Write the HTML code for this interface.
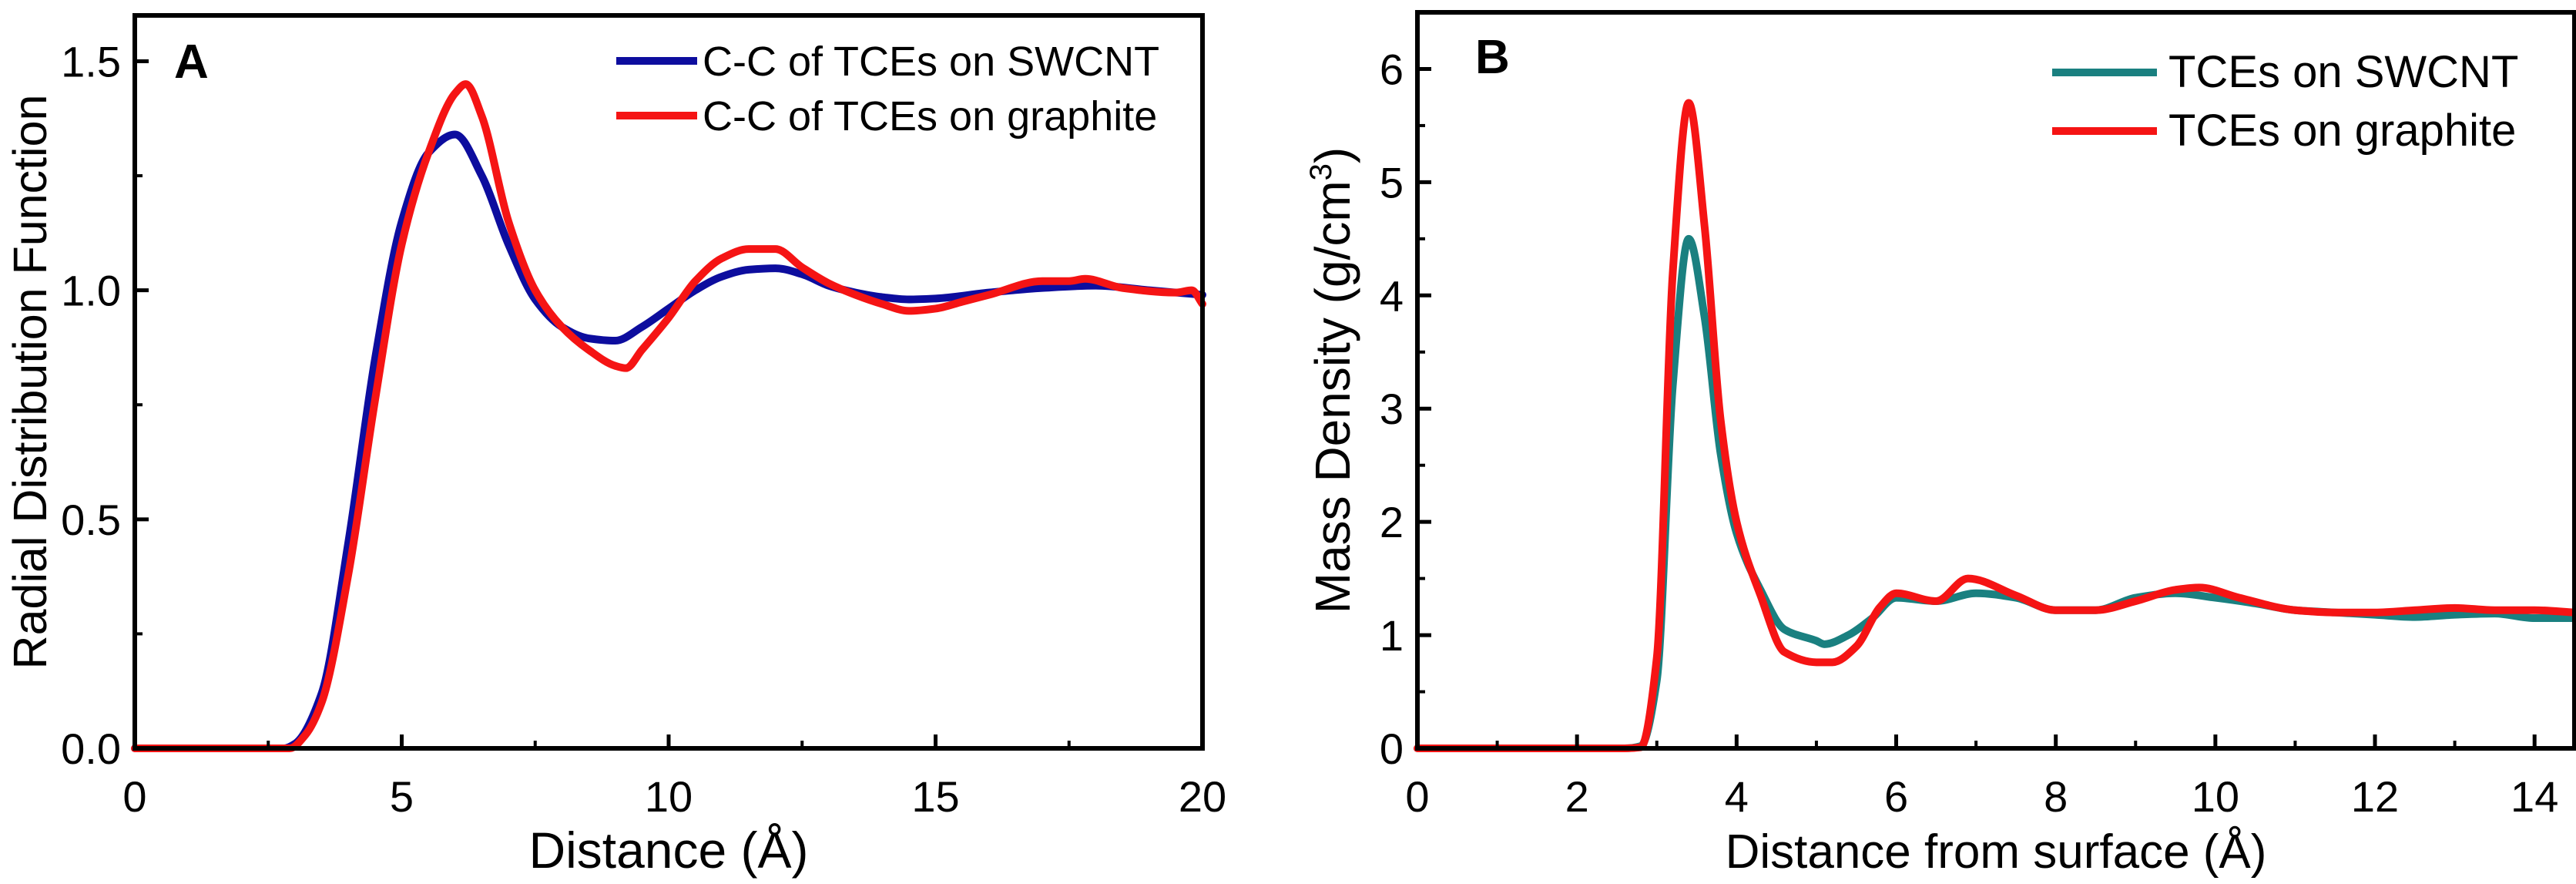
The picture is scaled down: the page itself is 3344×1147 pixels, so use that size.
<!DOCTYPE html>
<html><head><meta charset="utf-8"><style>
html,body{margin:0;padding:0;background:#fff}
svg{display:block;font-family:"Liberation Sans",sans-serif}
</style></head><body>
<svg id="chart" width="3344" height="1147" viewBox="0 0 3344 1147" xmlns="http://www.w3.org/2000/svg"></svg>
<script>
// Panel A data
const aX_swcnt=[0,2.8,3.0,3.5,4,4.5,5,5.5,6,6.5,7,7.5,8,8.5,9,9.5,10,10.5,11,11.5,12,12.5,13,13.5,14,14.5,15,16,17,18,19,20];
const aY_swcnt=[0,0,0.01,0.12,0.45,0.85,1.15,1.30,1.34,1.25,1.10,0.98,0.92,0.895,0.89,0.92,0.96,1.0,1.03,1.045,1.048,1.035,1.01,0.995,0.985,0.98,0.982,0.995,1.005,1.01,1.0,0.99];
const aX_graph=[0,2.9,3.2,3.5,4,4.5,5,5.5,6,6.2,6.5,7,7.5,8,8.5,9,9.2,9.5,10,10.5,11,11.5,12,12.5,13,13.5,14,14.5,15,15.5,16,17,17.5,17.8,18.5,19.5,19.8,20];
const aY_graph=[0,0,0.03,0.10,0.38,0.76,1.10,1.30,1.43,1.45,1.38,1.15,1.0,0.92,0.87,0.835,0.83,0.87,0.94,1.02,1.07,1.09,1.09,1.05,1.015,0.99,0.97,0.955,0.96,0.975,0.99,1.02,1.02,1.025,1.005,0.995,1.0,0.97];
const aXTicks=[0,5,10,15,20];
const aYTicks=[0.0,0.5,1.0,1.5];
const aYTickLabels=["0.0","0.5","1.0","1.5"];
// Panel B data
const bX_swcnt=[0,2.6,2.8,3.0,3.2,3.4,3.6,3.8,4.0,4.3,4.6,5.0,5.1,5.4,5.7,6,6.5,7,7.5,8,8.5,9,9.5,10,10.5,11,11.5,12,12.5,13,13.5,14,14.5];
const bY_swcnt=[0,0,0.02,0.6,3.2,4.5,3.8,2.6,1.9,1.4,1.05,0.95,0.92,1.0,1.15,1.33,1.3,1.37,1.33,1.22,1.22,1.33,1.37,1.33,1.28,1.22,1.2,1.18,1.16,1.18,1.19,1.15,1.15];
const bX_graph=[0,2.6,2.8,3.0,3.2,3.4,3.6,3.8,4.0,4.3,4.6,5.0,5.2,5.5,5.8,6,6.5,6.9,7.5,8,8.5,9,9.5,9.8,10.3,11,11.5,12,12.5,13,13.5,14,14.5];
const bY_graph=[0,0,0.01,0.8,4.2,5.7,4.6,2.9,2.0,1.35,0.85,0.76,0.76,0.9,1.25,1.37,1.3,1.5,1.35,1.22,1.22,1.3,1.4,1.42,1.33,1.22,1.2,1.2,1.22,1.24,1.22,1.22,1.2];
const bXTicks=[0,2,4,6,8,10,12,14];
const bYTicks=[0,1,2,3,4,5,6];

const NS="http://www.w3.org/2000/svg";
const svg=document.getElementById('chart');
function mk(tag,attrs,parent){const e=document.createElementNS(NS,tag);for(const k in attrs)e.setAttribute(k,attrs[k]);(parent||svg).appendChild(e);return e;}
// monotone cubic (Fritsch-Carlson) path
function smooth(p){const n=p.length;const d=[],m=[];
  for(let i=0;i<n-1;i++)d.push((p[i+1][1]-p[i][1])/(p[i+1][0]-p[i][0]));
  m[0]=d[0];m[n-1]=d[n-2];
  for(let i=1;i<n-1;i++){if(d[i-1]*d[i]<=0)m[i]=0;else{const h0=p[i][0]-p[i-1][0],h1=p[i+1][0]-p[i][0];const w1=2*h1+h0,w2=h1+2*h0;m[i]=(w1+w2)/(w1/d[i-1]+w2/d[i]);}}
  let s=`M${p[0][0]},${p[0][1]}`;
  for(let i=0;i<n-1;i++){const h=(p[i+1][0]-p[i][0])/3;
    s+=` C${p[i][0]+h},${p[i][1]+m[i]*h} ${p[i+1][0]-h},${p[i+1][1]-m[i+1]*h} ${p[i+1][0]},${p[i+1][1]}`;}
  return s;}

function panel(cfg){
  const g=mk('g',{});
  
  
  const sx=v=>cfg.l+(v-cfg.x0)/(cfg.x1-cfg.x0)*(cfg.r-cfg.l);
  const sy=v=>cfg.b-(v-cfg.y0)/(cfg.y1-cfg.y0)*(cfg.b-cfg.t);
  cfg.series.forEach(s=>{
    const pts=s.x.map((x,i)=>[sx(x),sy(s.y[i])]);
    const p=mk('path',{d:smooth(pts),fill:'none',stroke:s.color,'stroke-width':10,'stroke-linejoin':'round','stroke-linecap':'round'},g);
    
    
  });
  cfg.xTicks.forEach((v,i)=>{
    const t=mk('line',{x1:sx(v),x2:sx(v),y1:cfg.b,y2:cfg.b-18,stroke:'#000','stroke-width':5},g);
    
    
    const lb=mk('text',{x:sx(v),y:cfg.b+82,'text-anchor':'middle','font-size':cfg.tf},g);lb.textContent=String(v);
    
    
    if(i<cfg.xTicks.length-1){const m=(v+cfg.xTicks[i+1])/2;
      const mt=mk('line',{x1:sx(m),x2:sx(m),y1:cfg.b,y2:cfg.b-10,stroke:'#000','stroke-width':4},g);
      
      }
  });
  cfg.yTicks.forEach((v,i)=>{
    const t=mk('line',{x1:cfg.l,x2:cfg.l+18,y1:sy(v),y2:sy(v),stroke:'#000','stroke-width':5},g);
    
    
    const lb=mk('text',{x:cfg.l-18,y:sy(v)+20,'text-anchor':'end','font-size':cfg.tf},g);lb.textContent=cfg.yLabels[i];
    
    
    if(i<cfg.yTicks.length-1){const m=(v+cfg.yTicks[i+1])/2;
      const mt=mk('line',{x1:cfg.l,x2:cfg.l+10,y1:sy(m),y2:sy(m),stroke:'#000','stroke-width':4},g);
      
      }
  });
  const fr=mk('rect',{x:cfg.l,y:cfg.t,width:cfg.r-cfg.l,height:cfg.b-cfg.t,fill:'none',stroke:'#000','stroke-width':6},g);
  
  
  const xt=mk('text',{x:(cfg.l+cfg.r)/2,y:1126,'text-anchor':'middle','font-size':cfg.xf},g);xt.textContent=cfg.xTitle;
  
  
  const yt=mk('text',{x:0,y:0,'text-anchor':'middle','font-size':cfg.yf,transform:`translate(${cfg.ytx},${(cfg.t+cfg.b)/2}) rotate(-90)`},g);
  yt.innerHTML=cfg.yTitle;
  
  
  const pl=mk('text',{x:cfg.pl[0],y:cfg.pl[1],'font-size':62,'font-weight':'bold'},g);pl.textContent=cfg.letter;
  
  
  cfg.series.forEach((s,i)=>{
    const yy=cfg.leg.y[i];
    const ll=mk('line',{x1:cfg.leg.x1,x2:cfg.leg.x2,y1:yy,y2:yy,stroke:s.color,'stroke-width':10},g);
    
    
    const lt=mk('text',{x:cfg.leg.tx,y:yy+19,'font-size':cfg.lf},g);lt.textContent=s.label;
    
    
  });
}
panel({name:'panel-a',l:175,r:1561,t:20,b:971,x0:0,x1:20,y0:0,y1:1.6,tf:56,xf:66,yf:61,lf:54,
  xTicks:aXTicks,yTicks:aYTicks,yLabels:aYTickLabels,xTitle:'Distance (Å)',yTitle:'Radial Distribution Function',ytx:60,
  letter:'A',pl:[226,101],leg:{x1:800,x2:905,tx:912,y:[79,150]},
  series:[{name:'swcnt-rdf-line',label:'C-C of TCEs on SWCNT',color:'#0d0d9e',x:aX_swcnt,y:aY_swcnt},
          {name:'graphite-rdf-line',label:'C-C of TCEs on graphite',color:'#f51414',x:aX_graph,y:aY_graph}]});
panel({name:'panel-b',l:1840,r:3342,t:16,b:971,x0:0,x1:14.5,y0:0,y1:6.5,tf:56,xf:62,yf:64,lf:58,
  xTicks:bXTicks,yTicks:bYTicks,yLabels:bYTicks.map(String),xTitle:'Distance from surface (Å)',yTitle:'Mass Density (g/cm<tspan font-size="40" dy="-24">3</tspan><tspan dy="24">)</tspan>',ytx:1752,
  letter:'B',pl:[1915,95],leg:{x1:2664,x2:2800,tx:2815,y:[94,170]},
  series:[{name:'swcnt-density-line',label:'TCEs on SWCNT',color:'#1a8080',x:bX_swcnt,y:bY_swcnt},
          {name:'graphite-density-line',label:'TCEs on graphite',color:'#f51414',x:bX_graph,y:bY_graph}]});
</script>
</body></html>
